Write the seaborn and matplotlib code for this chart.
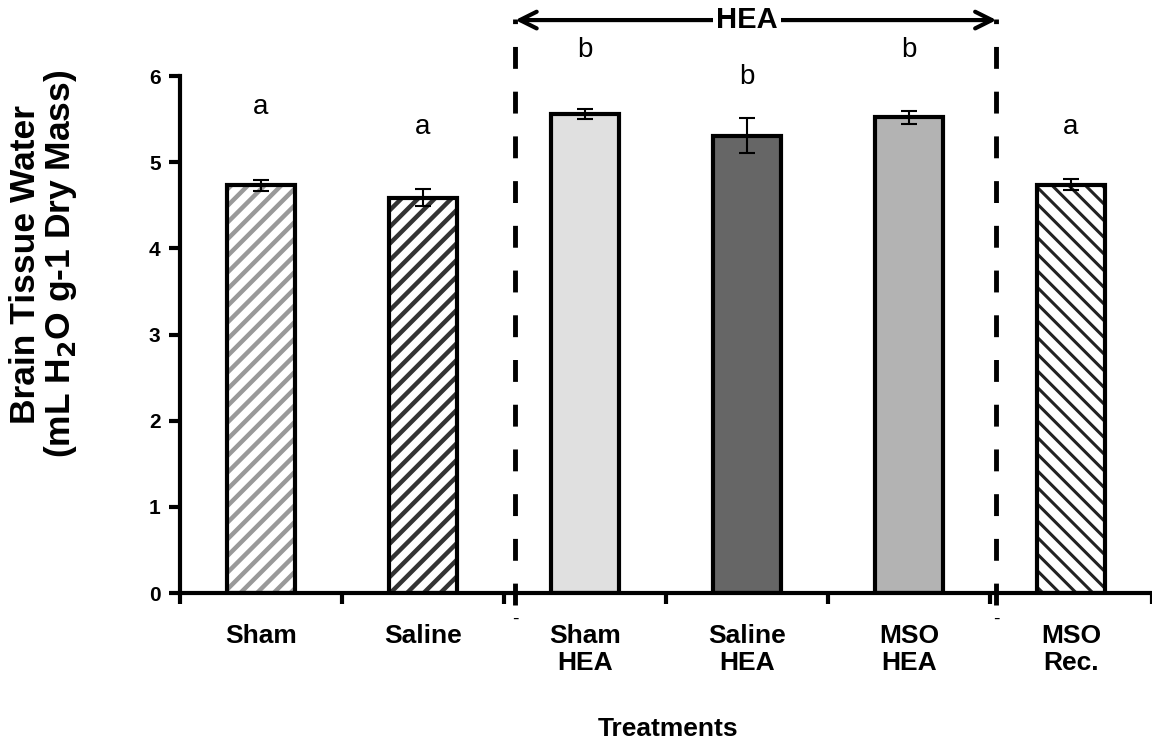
import matplotlib
matplotlib.use('Agg')
import matplotlib.pyplot as plt
import matplotlib.colors as mcolors
import seaborn as sns
import numpy as np

# values
treatments = ['Sham', 'Saline', 'Sham\nHEA', 'Saline\nHEA', 'MSO\nHEA', 'MSO\nRec.']
means = [4.73, 4.59, 5.56, 5.31, 5.52, 4.74]
errs = [0.06, 0.10, 0.06, 0.20, 0.08, 0.06]
letters = ['a', 'a', 'b', 'b', 'b', 'a']
letter_y = [5.64, 5.41, 6.30, 5.99, 6.30, 5.41]
face_colors = ['white', 'white', '#e0e0e0', '#666666', '#b3b3b3', 'white']
hatches = ['//', '//', '', '', '', '\\\\']
hatch_colors = ['#999999', '#333333', 'black', 'black', 'black', '#222222']

sns.set_style('white')
plt.rcParams['font.family'] = ['Liberation Sans', 'DejaVu Sans']
plt.rcParams['hatch.linewidth'] = 3.0
for k in ['text.color', 'axes.labelcolor', 'xtick.color', 'ytick.color']:
    plt.rcParams[k] = 'black'

fig = plt.figure(figsize=(11.52, 7.4), dpi=100)
ax = fig.add_axes([0.15625, 0.1986, 0.84375, 0.6986])

sns.barplot(x=treatments, y=means, hue=treatments, palette=face_colors, legend=False,
            width=0.42, edgecolor='black', linewidth=3, errorbar=None, saturation=1, ax=ax)

# hatching for the non-HEA groups
for p, h, hc in zip(ax.patches, hatches, hatch_colors):
    if h:
        p.set_hatch(h)
        if hasattr(p, 'set_hatchcolor'):
            p.set_hatchcolor(hc)
        else:
            p._hatch_color = mcolors.to_rgba(hc)
        if hasattr(p, 'set_hatch_linewidth'):
            p.set_hatch_linewidth(3.2 if h == '//' else 2.2)

ax.errorbar(np.arange(len(means)), means, yerr=errs, fmt='none', ecolor='black',
            elinewidth=1.5, capsize=5.5, capthick=1.5, zorder=5)

for i, (lt, ly) in enumerate(zip(letters, letter_y)):
    ax.text(i, ly, lt, ha='center', va='center', fontsize=20, clip_on=False)

ax.set_xlim(-0.5, 5.5)
ax.set_ylim(0, 6)
ax.set_yticks(range(0, 7))
ax.set_yticklabels([str(v) for v in range(0, 7)], fontsize=15, fontweight='bold')
ax.set_xticks(range(len(treatments)))
ax.set_xticklabels(treatments, fontsize=19, fontweight='bold')
ax.set_xticks(np.arange(-0.5, 6, 1), minor=True)
ax.tick_params(axis='x', which='major', length=0, pad=22)
ax.tick_params(axis='x', which='minor', length=8, width=3, direction='out', bottom=True)
ax.tick_params(axis='y', length=8, width=3, direction='out', left=True, pad=6)

for s in ['top', 'right']:
    ax.spines[s].set_visible(False)
for s in ['left', 'bottom']:
    ax.spines[s].set_linewidth(3)
    ax.spines[s].set_color('black')

ax.set_ylabel('Brain Tissue Water\n(mL H$_\\mathbf{2}$O g-1 Dry Mass)', fontsize=25.5,
              fontweight='bold', linespacing=1.0)
ax.yaxis.set_label_coords(-0.104, 0.636)
ax.set_xlabel('Treatments', fontsize=19, fontweight='bold')
ax.xaxis.set_label_coords(0.502, -0.24)

# HEA bracket: dashed boundaries and double arrow
for xd in [1.57, 4.54]:
    ax.plot([xd, xd], [-0.14, 6.66], color='black', lw=3.5, ls=(0, (4.5, 4.7)), clip_on=False)
    ax.text(xd, -0.3, '-', ha='center', va='center', fontsize=14, clip_on=False)
ax.annotate('', xy=(4.54, 6.65), xytext=(1.57, 6.65),
            arrowprops=dict(arrowstyle='<->', lw=3, color='black', mutation_scale=30,
                            shrinkA=0, shrinkB=0), annotation_clip=False)
ax.text(3.0, 6.65, 'HEA', ha='center', va='center', fontsize=21, fontweight='bold',
        bbox=dict(facecolor='white', edgecolor='none', pad=2), clip_on=False)

fig.savefig('out.png', dpi=100)
